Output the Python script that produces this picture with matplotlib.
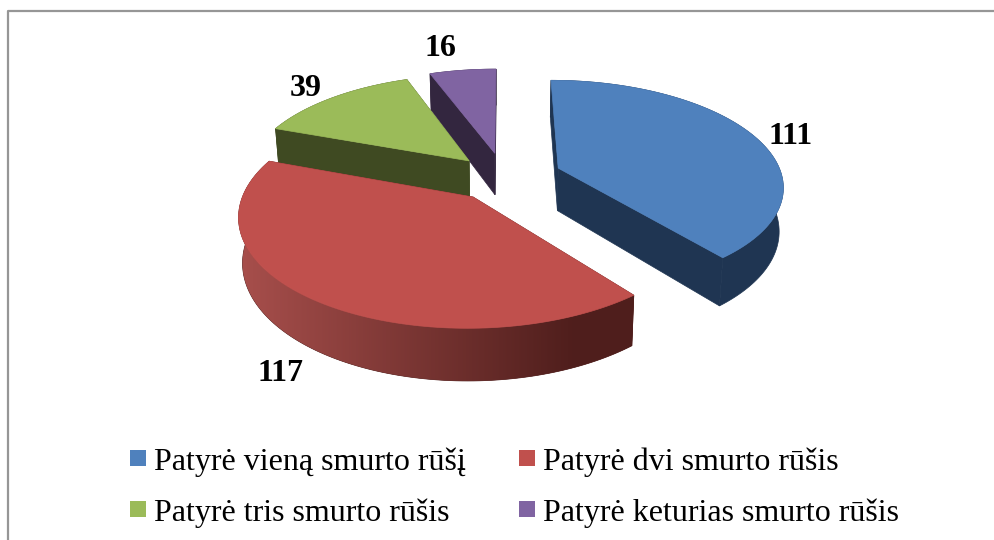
import numpy as np
import matplotlib
matplotlib.use("Agg")
import matplotlib.pyplot as plt
from matplotlib.patches import Polygon, Rectangle
from matplotlib.colors import LinearSegmentedColormap

categories = ["Patyrė vieną smurto rūšį", "Patyrė dvi smurto rūšis",
              "Patyrė tris smurto rūšis", "Patyrė keturias smurto rūšis"]
values = [111, 117, 39, 16]
top_colors = ["#4F81BD", "#C0504D", "#9BBB59", "#8064A2"]
wall_colors = ["#1F3552", "#4F1E1C", "#3F4A22", "#33263F"]
explode = [0.26, 0.23, 0.225, 0.24]
label_offsets = [(37, 0), (-36, 23), (-27, -9), (-22, -22)]
legend_x = [130, 130, 519, 519]
legend_y = [450, 501, 450, 501]
legend_order = [0, 2, 1, 3]

# pixel layout of the squashed pie
CX, CY = 504, 177
RX, RY = 224, 104
PERSP = 0.155
DEPTH = 43
NARROW = 0.015

plt.rcParams["font.family"] = ["Liberation Serif", "DejaVu Serif"]

fig = plt.figure(figsize=(9.95, 5.4), dpi=100)
ax = fig.add_axes([0, 0, 1, 1])
ax.axis("off")

# chart frame
ax.plot([8, 8, 995], [540, 11, 11], color="#969696", lw=1.6, zorder=0)

red_fade = LinearSegmentedColormap.from_list("red_fade", ["#A64E4B", "#4F1E1C"])


def project(x, y, z=0.0):
    s = 1 / (1 + PERSP * y)
    return CX + RX * x * s * (1 - NARROW * z), CY - RY * y * s + DEPTH * z * s


def arc_points(theta, ex, ey, z=0.0):
    return np.column_stack(project(ex + np.sin(theta), ey + np.cos(theta), z))


def draw_slice(start, end, i, zo):
    mid = (start + end) / 2
    ex, ey = explode[i] * np.sin(mid), explode[i] * np.cos(mid)
    theta = np.linspace(start, end, 120)
    top_arc = arc_points(theta, ex, ey)
    low_arc = arc_points(theta, ex, ey, 1.0)
    apex = np.array(project(ex, ey))
    apex_low = np.array(project(ex, ey, 1.0))

    # cut faces
    for k in (0, -1):
        quad = [apex, top_arc[k], low_arc[k], apex_low]
        ax.add_patch(Polygon(quad, fc=wall_colors[i], ec=wall_colors[i], lw=0.5, zorder=zo))

    # outer wall, the red one fades towards the right
    wall = Polygon(np.vstack([top_arc, low_arc[::-1]]), fc=wall_colors[i], ec=wall_colors[i],
                   lw=0.5, zorder=zo)
    ax.add_patch(wall)
    if i == 1:
        x = np.arange(235, 650)
        shade = np.clip((x - 245) / 330, 0, 1)[None, :]
        img = ax.imshow(shade, cmap=red_fade, vmin=0, vmax=1, aspect="auto",
                        extent=(235, 650, 420, 150), zorder=zo + 0.1)
        img.set_clip_path(wall)

    ax.add_patch(Polygon(np.vstack([apex, top_arc]), fc=top_colors[i], ec=top_colors[i],
                         lw=0.5, zorder=zo + 0.5))
    return mid, ex, ey


edges = np.concatenate([[0], np.cumsum(values)]) / np.sum(values) * 2 * np.pi

for zo, i in enumerate([3, 2, 0, 1], start=1):
    mid, ex, ey = draw_slice(edges[i], edges[i + 1], i, zo)
    z = 1.0 if i == 1 else 0.0
    px, py = project(ex + np.sin(mid), ey + np.cos(mid), z)
    ax.text(px + label_offsets[i][0], py + label_offsets[i][1], str(values[i]),
            fontsize=23, fontweight="bold", ha="center", va="center", color="black", zorder=10)

ax.set_xlim(0, 995)
ax.set_ylim(540, 0)

# legend drawn by hand, the swatches sit high against the text as in the original
for pos, k in enumerate(legend_order):
    lx, ly = legend_x[pos], legend_y[pos]
    ax.add_patch(Rectangle((lx, ly), 16, 16, fc=top_colors[k], ec="none", zorder=10))
    ax.text(lx + 24, ly + 20, categories[k], fontsize=23, ha="left", va="baseline",
            color="black", zorder=10)

fig.savefig("out.png", dpi=100, facecolor="white")
